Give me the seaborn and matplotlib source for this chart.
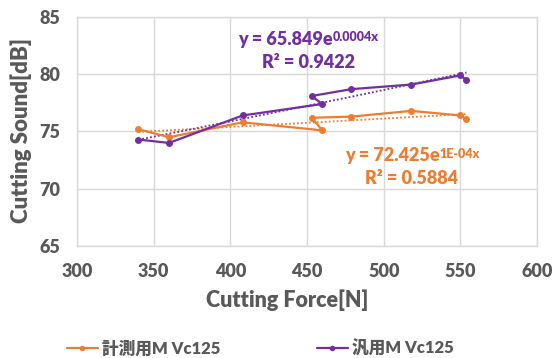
import numpy as np
import pandas as pd
import matplotlib
matplotlib.use("Agg")
import matplotlib.pyplot as plt
from matplotlib.lines import Line2D
import seaborn as sns

# Measured data: cutting force [N] vs cutting sound [dB]
force_measure = [340, 360, 408, 460, 453, 479, 518, 550, 554]
sound_measure = [75.2, 74.5, 75.8, 75.1, 76.2, 76.3, 76.8, 76.4, 76.1]
force_general = [340, 360, 408, 460, 453, 479, 518, 550, 554]
sound_general = [74.3, 74.0, 76.4, 77.4, 78.1, 78.7, 79.1, 79.9, 79.5]

series_names = ["計測用M Vc125", "汎用M Vc125"]
fit_labels = [("y = 72.425e", "1E-04x", "R² = 0.5884"),
              ("y = 65.849e", "0.0004x", "R² = 0.9422")]
x_ticks = [300, 350, 400, 450, 500, 550, 600]
y_ticks = [65, 70, 75, 80, 85]

ORANGE = "#ED7D31"
PURPLE = "#7030A0"
GRAY = "#595959"
FAMILY = ["Lato", "Noto Sans CJK JP", "DejaVu Sans"]
WEIGHT = "heavy"

sns.set_theme(style="white")
plt.rcParams["font.family"] = FAMILY
plt.rcParams["font.weight"] = WEIGHT

fig = plt.figure(figsize=(5.54, 3.58), dpi=100)
ax = fig.add_axes([77 / 554, 1 - 246 / 358, (537 - 77) / 554, (246 - 17) / 358])

df = pd.concat([
    pd.DataFrame({"force": force_measure, "sound": sound_measure, "series": series_names[0]}),
    pd.DataFrame({"force": force_general, "sound": sound_general, "series": series_names[1]}),
], ignore_index=True)
df["order"] = list(range(len(force_measure))) + list(range(len(force_general)))

palette = {series_names[0]: ORANGE, series_names[1]: PURPLE}

# Exponential trend lines (fit on log of the sound level)
for name in series_names:
    sub = df[df.series == name]
    b, ln_a = np.polyfit(sub.force, np.log(sub.sound), 1)
    xs = np.linspace(sub.force.min(), sub.force.max(), 50)
    trend = pd.DataFrame({"force": xs, "sound": np.exp(ln_a) * np.exp(b * xs)})
    sns.lineplot(data=trend, x="force", y="sound", ax=ax, color=palette[name],
                 linestyle=(0, (1, 1.2)), linewidth=1.3, legend=False)

for name in series_names:
    sub = df[df.series == name].sort_values("order")
    sns.lineplot(data=sub, x="force", y="sound", ax=ax, sort=False,
                 color=palette[name], marker="o", markersize=5,
                 markeredgewidth=0, linewidth=1.6, legend=False)

ax.set_xlim(300, 600)
ax.set_ylim(65, 85)
ax.set_xticks(x_ticks)
ax.set_yticks(y_ticks)
ax.grid(True, color="#D9D9D9", linewidth=1.0)
ax.set_axisbelow(True)
for s in ax.spines.values():
    s.set_color("#D9D9D9")
    s.set_linewidth(1.0)
ax.tick_params(axis="both", length=0, labelsize=13, labelcolor=GRAY, pad=12)
for lab in ax.get_xticklabels() + ax.get_yticklabels():
    lab.set_fontweight(WEIGHT)
ax.set_xlabel("")
ax.set_ylabel("")

fig.text(287 / 554, 1 - 300 / 358, "Cutting Force[N]", ha="center", va="center",
         fontsize=15.5, fontweight=WEIGHT, color=GRAY)
fig.text(21 / 554, 1 - 131 / 358, "Cutting Sound[dB]", ha="center", va="center",
         rotation=90, fontsize=16, fontweight=WEIGHT, color=GRAY)

# Trend-line equations
def equation(x_px, y_px, base, sup, r2, r2_x_px, color):
    t = fig.text(x_px / 554, 1 - y_px / 358, base, ha="left", va="center",
                 fontsize=13, fontweight=WEIGHT, color=color)
    ax.annotate(sup, xy=(1, 0.95), xycoords=t, ha="left", va="top",
                fontsize=9, fontweight=WEIGHT, color=color)
    fig.text(r2_x_px / 554, 1 - (y_px + 23) / 358, r2, ha="left", va="center",
             fontsize=13, fontweight=WEIGHT, color=color)

equation(238, 39, *fit_labels[1], 262, PURPLE)
equation(345, 156, *fit_labels[0], 365, ORANGE)

handles = [Line2D([0], [0], color=palette[n], marker="o", markersize=4,
                  markeredgewidth=0, linewidth=1.6) for n in series_names]
fig.legend(handles, series_names, loc="center", bbox_to_anchor=(260 / 554, 1 - 348 / 358),
           ncol=2, frameon=False, labelcolor=GRAY, handlelength=1.9,
           handletextpad=0.2, columnspacing=5.8,
           prop={"weight": WEIGHT, "size": 12, "family": FAMILY})

fig.savefig("out.png", dpi=100)
